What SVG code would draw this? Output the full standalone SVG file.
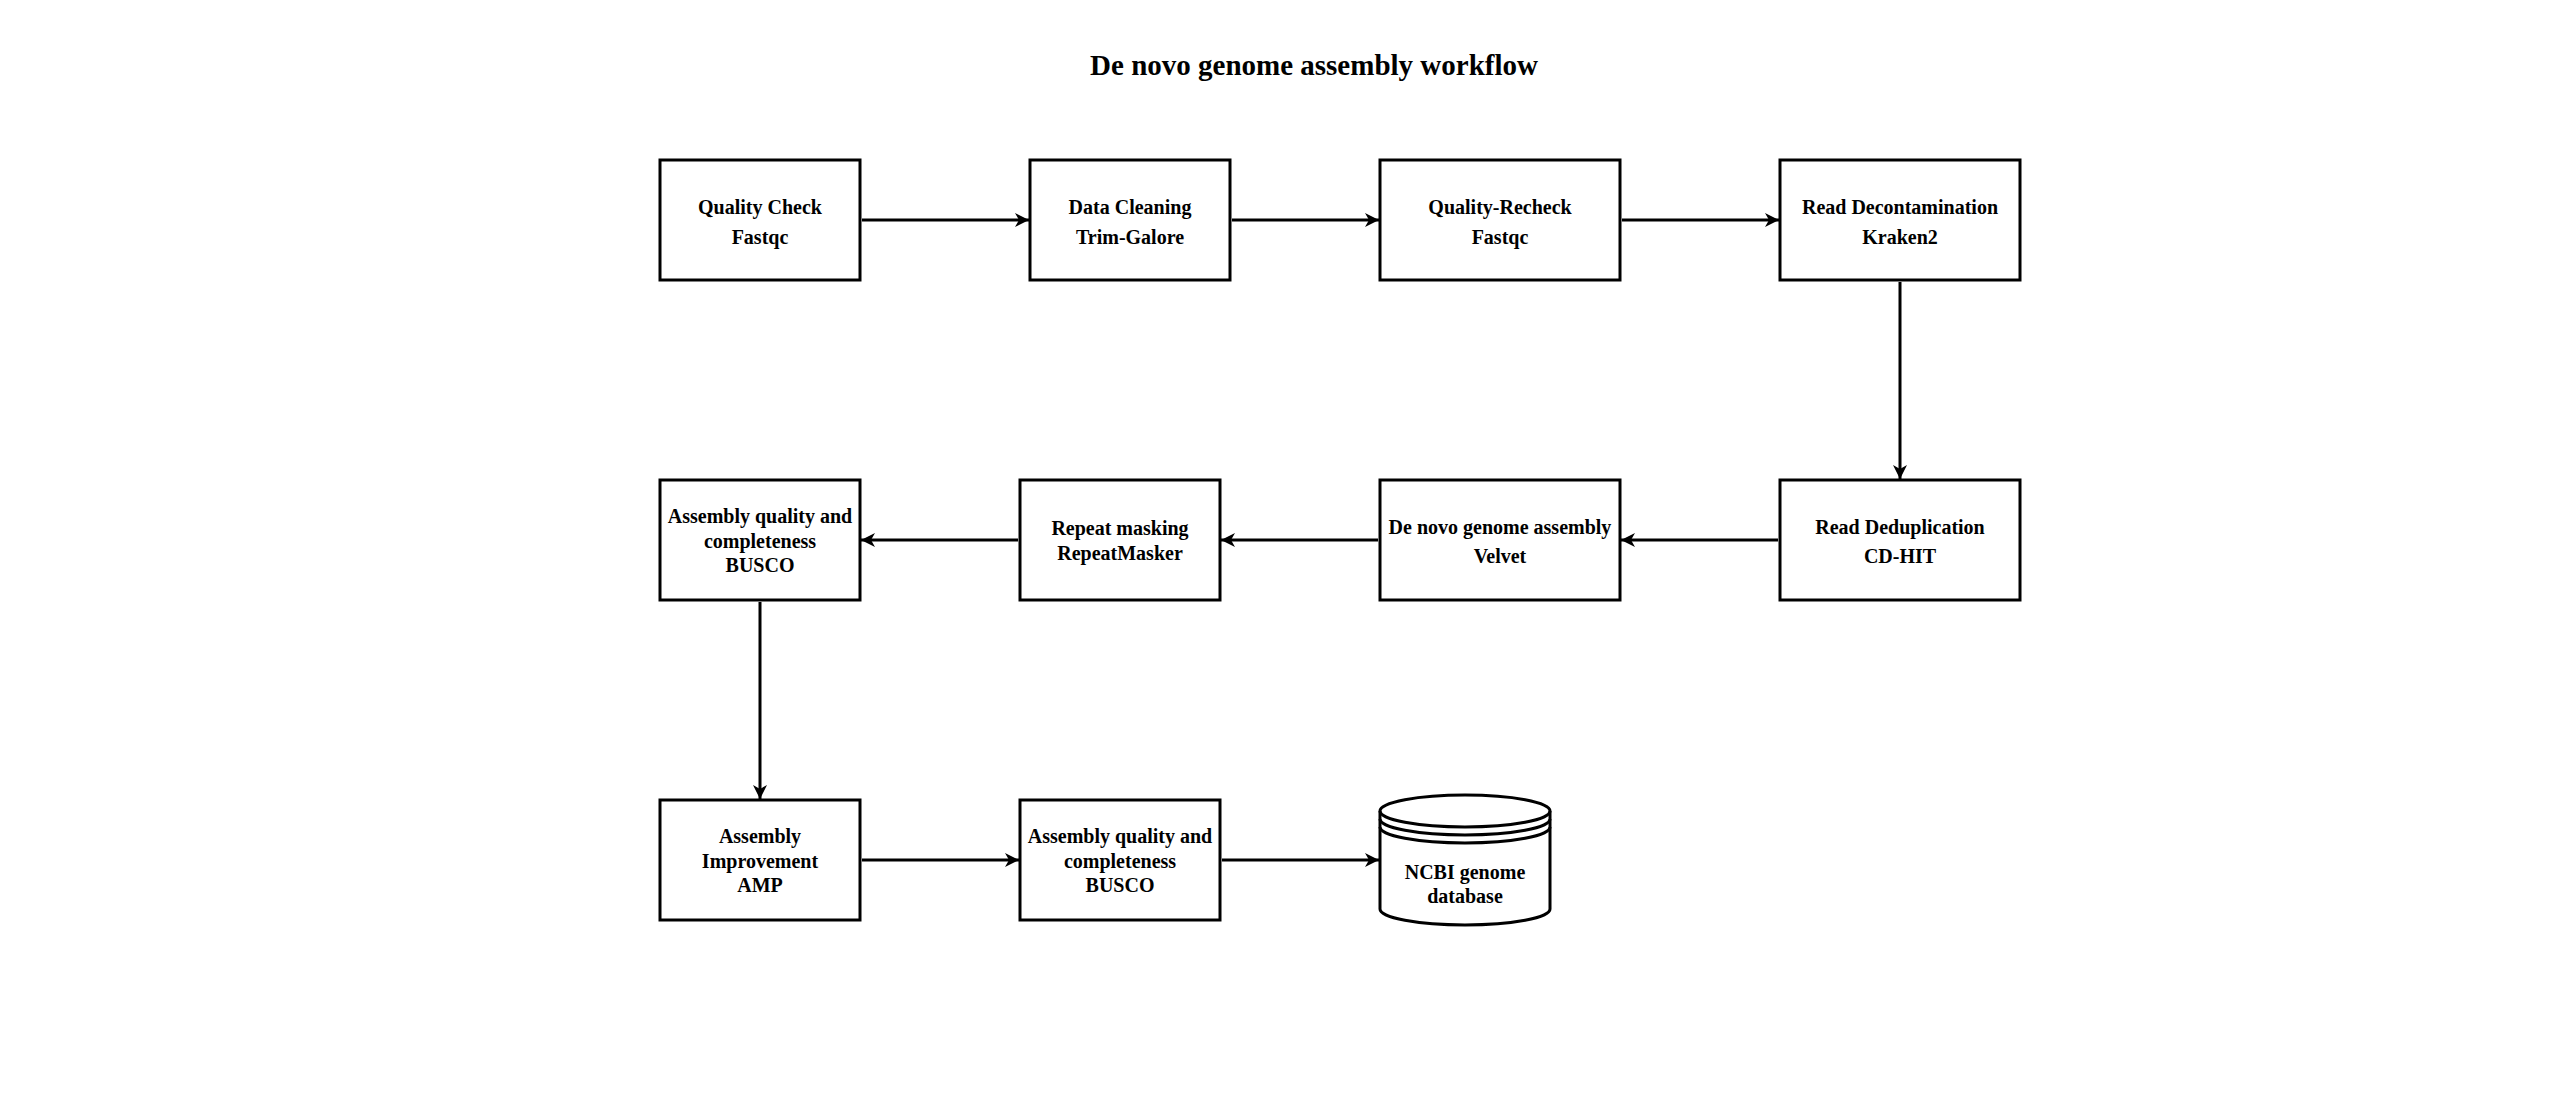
<svg xmlns="http://www.w3.org/2000/svg" width="2550" height="1100" viewBox="0 0 2550 1100">
<style>
  .box { fill: #ffffff; stroke: #000000; stroke-width: 3; }
  .lbl { font-family: "Liberation Serif", "Times New Roman", serif; font-weight: bold; font-size: 20px; fill: #000000; text-anchor: middle; }
  .title { font-family: "Liberation Serif", "Times New Roman", serif; font-weight: bold; font-size: 29px; fill: #000000; text-anchor: middle; }
  .edge { fill: none; stroke: #000000; stroke-width: 3; marker-end: url(#arrow); }
</style>
<defs>
  <marker id="arrow" markerUnits="userSpaceOnUse" markerWidth="16" markerHeight="16" viewBox="0 0 16 16" refX="15" refY="8" orient="auto">
    <path d="M1,1 L15,8 L1,15 L5,8 Z" fill="#000000"/>
  </marker>
</defs>
<rect width="2550" height="1100" fill="#ffffff"/>
<text class="title" x="1314" y="75">De novo genome assembly workflow</text>

<g id="connectors">
  <path class="edge" d="M862,220 L1029,220"/>
  <path class="edge" d="M1232,220 L1379,220"/>
  <path class="edge" d="M1622,220 L1779,220"/>
  <path class="edge" d="M1900,282 L1900,479"/>
  <path class="edge" d="M1778,540 L1621,540"/>
  <path class="edge" d="M1378,540 L1221,540"/>
  <path class="edge" d="M1018,540 L861,540"/>
  <path class="edge" d="M760,602 L760,799"/>
  <path class="edge" d="M862,860 L1019,860"/>
  <path class="edge" d="M1222,860 L1379,860"/>
</g>

<g id="n1">
  <rect class="box" x="660" y="160" width="200" height="120"/>
  <text class="lbl" x="760" y="213.5">Quality Check</text>
  <text class="lbl" x="760" y="243.5">Fastqc</text>
</g>
<g id="n2">
  <rect class="box" x="1030" y="160" width="200" height="120"/>
  <text class="lbl" x="1130" y="213.5">Data Cleaning</text>
  <text class="lbl" x="1130" y="243.5">Trim-Galore</text>
</g>
<g id="n3">
  <rect class="box" x="1380" y="160" width="240" height="120"/>
  <text class="lbl" x="1500" y="213.5">Quality-Recheck</text>
  <text class="lbl" x="1500" y="243.5">Fastqc</text>
</g>
<g id="n4">
  <rect class="box" x="1780" y="160" width="240" height="120"/>
  <text class="lbl" x="1900" y="213.5">Read Decontamination</text>
  <text class="lbl" x="1900" y="243.5">Kraken2</text>
</g>
<g id="n8">
  <rect class="box" x="1780" y="480" width="240" height="120"/>
  <text class="lbl" x="1900" y="533.5">Read Deduplication</text>
  <text class="lbl" x="1900" y="563">CD-HIT</text>
</g>
<g id="n7">
  <rect class="box" x="1380" y="480" width="240" height="120"/>
  <text class="lbl" x="1500" y="533.5">De novo genome assembly</text>
  <text class="lbl" x="1500" y="563">Velvet</text>
</g>
<g id="n6">
  <rect class="box" x="1020" y="480" width="200" height="120"/>
  <text class="lbl" x="1120" y="534.5">Repeat masking</text>
  <text class="lbl" x="1120" y="559.5">RepeatMasker</text>
</g>
<g id="n5">
  <rect class="box" x="660" y="480" width="200" height="120"/>
  <text class="lbl" x="760" y="523">Assembly quality and</text>
  <text class="lbl" x="760" y="547.5">completeness</text>
  <text class="lbl" x="760" y="572">BUSCO</text>
</g>
<g id="n9">
  <rect class="box" x="660" y="800" width="200" height="120"/>
  <text class="lbl" x="760" y="843">Assembly</text>
  <text class="lbl" x="760" y="867.5">Improvement</text>
  <text class="lbl" x="760" y="892">AMP</text>
</g>
<g id="n10">
  <rect class="box" x="1020" y="800" width="200" height="120"/>
  <text class="lbl" x="1120" y="843">Assembly quality and</text>
  <text class="lbl" x="1120" y="867.5">completeness</text>
  <text class="lbl" x="1120" y="892">BUSCO</text>
</g>
<g id="n11">
  <path class="box" d="M1380,811 A85,16 0 0 1 1550,811 L1550,909 A85,16 0 0 1 1380,909 Z"/>
  <path d="M1380,811 A85,16 0 0 0 1550,811 M1380,819 A85,16 0 0 0 1550,819 M1380,827 A85,16 0 0 0 1550,827" fill="none" stroke="#000000" stroke-width="3"/>
  <text class="lbl" x="1465" y="879">NCBI genome</text>
  <text class="lbl" x="1465" y="903">database</text>
</g>
</svg>
